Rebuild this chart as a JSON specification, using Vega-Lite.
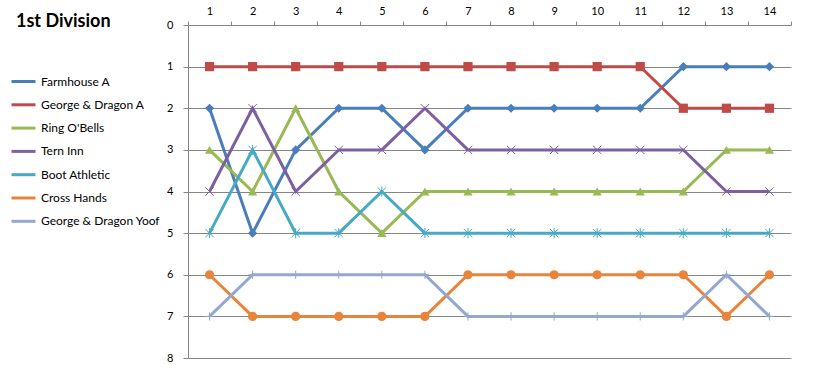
{
  "$schema": "https://vega.github.io/schema/vega-lite/v6.json",
  "width": 603,
  "height": 333,
  "autosize": {"type": "none"},
  "padding": {"left": 188, "top": 25, "right": 27, "bottom": 24},
  "background": "white",
  "config": {
    "view": {"stroke": null},
    "font": "Lato",
    "axis": {"labelFont": "Lato", "labelFontSize": 12, "labelColor": "#000000", "domainColor": "#868686", "tickColor": "#868686", "gridColor": "#868686", "titleFontSize": 0},
    "legend": {"titleFont": "Lato", "titleFontSize": 18, "titleFontWeight": "bold", "titleColor": "#000000", "titlePadding": 37, "labelFont": "Lato", "labelFontSize": 12, "labelColor": "#000000", "labelOffset": 4}
  },
  "data": {
    "values": [
      {"team": "Farmhouse A", "week": 1, "pos": 2}, {"team": "Farmhouse A", "week": 2, "pos": 5}, {"team": "Farmhouse A", "week": 3, "pos": 3}, {"team": "Farmhouse A", "week": 4, "pos": 2}, {"team": "Farmhouse A", "week": 5, "pos": 2}, {"team": "Farmhouse A", "week": 6, "pos": 3}, {"team": "Farmhouse A", "week": 7, "pos": 2}, {"team": "Farmhouse A", "week": 8, "pos": 2}, {"team": "Farmhouse A", "week": 9, "pos": 2}, {"team": "Farmhouse A", "week": 10, "pos": 2}, {"team": "Farmhouse A", "week": 11, "pos": 2}, {"team": "Farmhouse A", "week": 12, "pos": 1}, {"team": "Farmhouse A", "week": 13, "pos": 1}, {"team": "Farmhouse A", "week": 14, "pos": 1},
      {"team": "George & Dragon A", "week": 1, "pos": 1}, {"team": "George & Dragon A", "week": 2, "pos": 1}, {"team": "George & Dragon A", "week": 3, "pos": 1}, {"team": "George & Dragon A", "week": 4, "pos": 1}, {"team": "George & Dragon A", "week": 5, "pos": 1}, {"team": "George & Dragon A", "week": 6, "pos": 1}, {"team": "George & Dragon A", "week": 7, "pos": 1}, {"team": "George & Dragon A", "week": 8, "pos": 1}, {"team": "George & Dragon A", "week": 9, "pos": 1}, {"team": "George & Dragon A", "week": 10, "pos": 1}, {"team": "George & Dragon A", "week": 11, "pos": 1}, {"team": "George & Dragon A", "week": 12, "pos": 2}, {"team": "George & Dragon A", "week": 13, "pos": 2}, {"team": "George & Dragon A", "week": 14, "pos": 2},
      {"team": "Ring O'Bells", "week": 1, "pos": 3}, {"team": "Ring O'Bells", "week": 2, "pos": 4}, {"team": "Ring O'Bells", "week": 3, "pos": 2}, {"team": "Ring O'Bells", "week": 4, "pos": 4}, {"team": "Ring O'Bells", "week": 5, "pos": 5}, {"team": "Ring O'Bells", "week": 6, "pos": 4}, {"team": "Ring O'Bells", "week": 7, "pos": 4}, {"team": "Ring O'Bells", "week": 8, "pos": 4}, {"team": "Ring O'Bells", "week": 9, "pos": 4}, {"team": "Ring O'Bells", "week": 10, "pos": 4}, {"team": "Ring O'Bells", "week": 11, "pos": 4}, {"team": "Ring O'Bells", "week": 12, "pos": 4}, {"team": "Ring O'Bells", "week": 13, "pos": 3}, {"team": "Ring O'Bells", "week": 14, "pos": 3},
      {"team": "Tern Inn", "week": 1, "pos": 4}, {"team": "Tern Inn", "week": 2, "pos": 2}, {"team": "Tern Inn", "week": 3, "pos": 4}, {"team": "Tern Inn", "week": 4, "pos": 3}, {"team": "Tern Inn", "week": 5, "pos": 3}, {"team": "Tern Inn", "week": 6, "pos": 2}, {"team": "Tern Inn", "week": 7, "pos": 3}, {"team": "Tern Inn", "week": 8, "pos": 3}, {"team": "Tern Inn", "week": 9, "pos": 3}, {"team": "Tern Inn", "week": 10, "pos": 3}, {"team": "Tern Inn", "week": 11, "pos": 3}, {"team": "Tern Inn", "week": 12, "pos": 3}, {"team": "Tern Inn", "week": 13, "pos": 4}, {"team": "Tern Inn", "week": 14, "pos": 4},
      {"team": "Boot Athletic", "week": 1, "pos": 5}, {"team": "Boot Athletic", "week": 2, "pos": 3}, {"team": "Boot Athletic", "week": 3, "pos": 5}, {"team": "Boot Athletic", "week": 4, "pos": 5}, {"team": "Boot Athletic", "week": 5, "pos": 4}, {"team": "Boot Athletic", "week": 6, "pos": 5}, {"team": "Boot Athletic", "week": 7, "pos": 5}, {"team": "Boot Athletic", "week": 8, "pos": 5}, {"team": "Boot Athletic", "week": 9, "pos": 5}, {"team": "Boot Athletic", "week": 10, "pos": 5}, {"team": "Boot Athletic", "week": 11, "pos": 5}, {"team": "Boot Athletic", "week": 12, "pos": 5}, {"team": "Boot Athletic", "week": 13, "pos": 5}, {"team": "Boot Athletic", "week": 14, "pos": 5},
      {"team": "Cross Hands", "week": 1, "pos": 6}, {"team": "Cross Hands", "week": 2, "pos": 7}, {"team": "Cross Hands", "week": 3, "pos": 7}, {"team": "Cross Hands", "week": 4, "pos": 7}, {"team": "Cross Hands", "week": 5, "pos": 7}, {"team": "Cross Hands", "week": 6, "pos": 7}, {"team": "Cross Hands", "week": 7, "pos": 6}, {"team": "Cross Hands", "week": 8, "pos": 6}, {"team": "Cross Hands", "week": 9, "pos": 6}, {"team": "Cross Hands", "week": 10, "pos": 6}, {"team": "Cross Hands", "week": 11, "pos": 6}, {"team": "Cross Hands", "week": 12, "pos": 6}, {"team": "Cross Hands", "week": 13, "pos": 7}, {"team": "Cross Hands", "week": 14, "pos": 6},
      {"team": "George & Dragon Yoof", "week": 1, "pos": 7}, {"team": "George & Dragon Yoof", "week": 2, "pos": 6}, {"team": "George & Dragon Yoof", "week": 3, "pos": 6}, {"team": "George & Dragon Yoof", "week": 4, "pos": 6}, {"team": "George & Dragon Yoof", "week": 5, "pos": 6}, {"team": "George & Dragon Yoof", "week": 6, "pos": 6}, {"team": "George & Dragon Yoof", "week": 7, "pos": 7}, {"team": "George & Dragon Yoof", "week": 8, "pos": 7}, {"team": "George & Dragon Yoof", "week": 9, "pos": 7}, {"team": "George & Dragon Yoof", "week": 10, "pos": 7}, {"team": "George & Dragon Yoof", "week": 11, "pos": 7}, {"team": "George & Dragon Yoof", "week": 12, "pos": 7}, {"team": "George & Dragon Yoof", "week": 13, "pos": 6}, {"team": "George & Dragon Yoof", "week": 14, "pos": 7}
    ]
  },
  "resolve": {"legend": {"color": "independent"}},
  "encoding": {
    "x": {
      "field": "week", "type": "quantitative", "title": null,
      "scale": {"domain": [0.5, 14.5], "nice": false, "zero": false},
      "axis": {
        "orient": "top", "grid": false,
        "values": [0.5, 1, 1.5, 2, 2.5, 3, 3.5, 4, 4.5, 5, 5.5, 6, 6.5, 7, 7.5, 8, 8.5, 9, 9.5, 10, 10.5, 11, 11.5, 12, 12.5, 13, 13.5, 14, 14.5],
        "labelExpr": "datum.value % 1 == 0 ? format(datum.value, 'd') : ''",
        "tickOpacity": {"condition": {"test": "datum.value % 1 == 0", "value": 0}, "value": 1},
        "tickSize": 4, "labelPadding": 5, "labelFontSize": 11, "labelFlush": false, "labelOverlap": false
      }
    },
    "y": {
      "field": "pos", "type": "quantitative", "title": null,
      "scale": {"domain": [0, 8], "reverse": true, "nice": false, "zero": false},
      "axis": {"values": [0, 1, 2, 3, 4, 5, 6, 7, 8], "grid": true, "tickSize": 5, "labelPadding": 10, "labelFontSize": 11}
    }
  },
  "layer": [
    {
      "mark": {"type": "line", "strokeWidth": 3},
      "encoding": {
        "color": {
          "field": "team", "type": "nominal",
          "scale": {
            "domain": ["Farmhouse A", "George & Dragon A", "Ring O'Bells", "Tern Inn", "Boot Athletic", "Cross Hands", "George & Dragon Yoof"],
            "range": ["#4A7EBB", "#BE4B48", "#98B954", "#7D60A0", "#46AAC5", "#E8843C", "#92A8D0"]
          },
          "legend": {
            "orient": "none", "legendX": -172, "legendY": -12,
            "title": "1st Division",
            "symbolType": "stroke", "symbolSize": 576, "symbolStrokeWidth": 3, "rowPadding": 3.3, "symbolOffset": -6
          }
        }
      }
    },
    {
      "transform": [{"filter": "datum.team === 'Farmhouse A' || datum.team === 'George & Dragon A' || datum.team === \"Ring O'Bells\" || datum.team === 'Cross Hands'"}],
      "mark": {"type": "point", "filled": true, "size": 85, "opacity": 1},
      "encoding": {
        "color": {"field": "team", "type": "nominal", "legend": null},
        "shape": {
          "field": "team", "type": "nominal", "legend": null,
          "scale": {
            "domain": ["Farmhouse A", "George & Dragon A", "Ring O'Bells", "Tern Inn", "Boot Athletic", "Cross Hands", "George & Dragon Yoof"],
            "range": ["diamond", "square", "triangle-up", "M-1,-1L1,1M-1,1L1,-1", "M-1,-1L1,1M-1,1L1,-1M0,-1.2L0,1.2", "circle", "M-1,0L1,0M0,-1L0,1"]
          }
        }
      }
    },
    {
      "transform": [{"filter": "datum.team === 'Tern Inn' || datum.team === 'Boot Athletic' || datum.team === 'George & Dragon Yoof'"}],
      "mark": {"type": "point", "filled": false, "size": 70, "strokeWidth": 1, "opacity": 1},
      "encoding": {
        "color": {"field": "team", "type": "nominal", "legend": null},
        "shape": {"field": "team", "type": "nominal", "legend": null}
      }
    }
  ]
}
